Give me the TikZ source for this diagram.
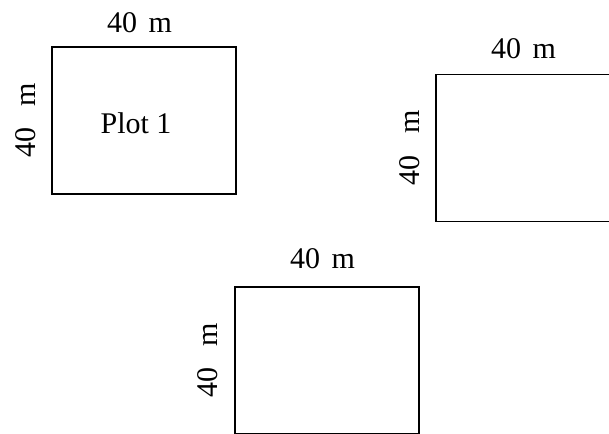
\documentclass[tikz,border=0pt]{standalone}
\usepackage{fontspec}
\setmainfont{Liberation Serif}

\begin{document}
\begin{tikzpicture}[x=0.4pt, y=-0.4pt,
  font=\fontsize{12}{14}\selectfont,
  plot/.style={draw, line width=0.6pt, minimum width=73.4pt, minimum height=58.8pt, inner sep=0pt},
  top/.style={xshift=-1.8pt},
  side/.style={xshift=#1, rotate=90, anchor=south, label distance=0pt}]
\useasboundingbox (0,0) rectangle (609,434);
\node[plot, label={[top, label distance=2pt]above:40\hspace{1.6pt} m}, label={[side=-2.8pt]west:40\hspace{5.6pt} m},
  label={[xshift=-3.2pt, yshift=-1pt]center:Plot 1}] (plotone) at (144, 120.5) {};
\node[plot, label={[top, label distance=2.4pt]above:40\hspace{1.6pt} m}, label={[side=-2.8pt]west:40\hspace{5.6pt} m}] (plottwo) at (528, 148) {};
\node[plot, label={[top, label distance=3.6pt]above:40\hspace{1.6pt} m}, label={[side=-3.2pt]west:40\hspace{5.6pt} m}] (plotthree) at (327, 360.5) {};
\end{tikzpicture}
\end{document}
